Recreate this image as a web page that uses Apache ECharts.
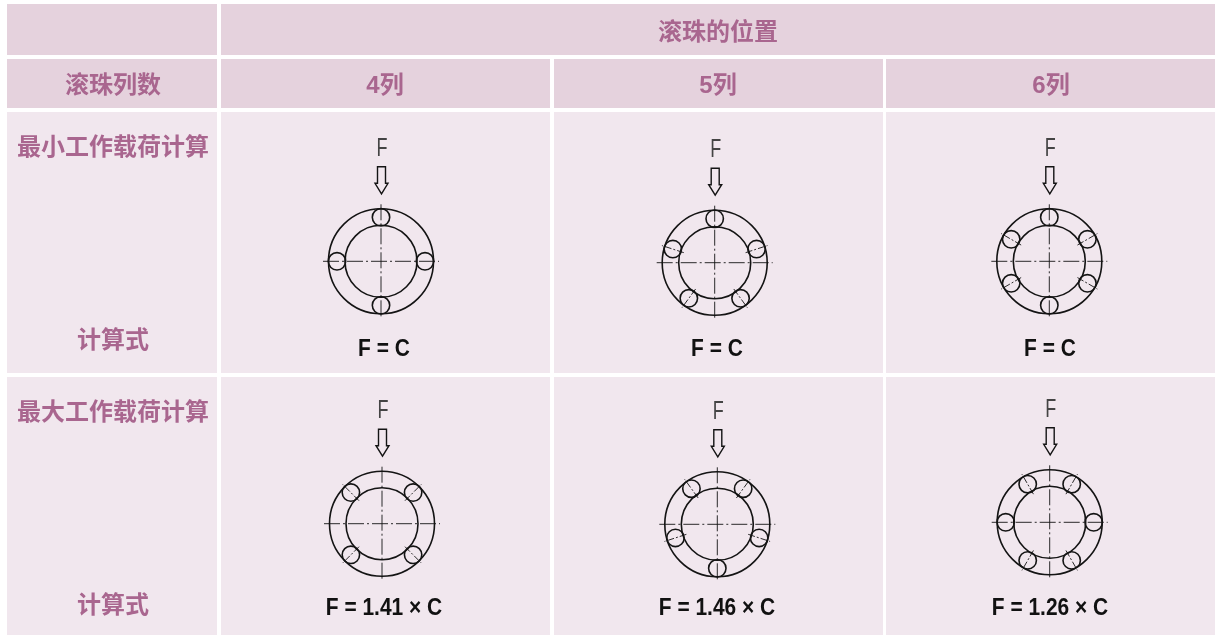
<!DOCTYPE html>
<html>
<head>
<meta charset="utf-8">
<title>滚珠的位置</title>
<style>
	html,body{margin:0;padding:0;background:#fff;}
	#chart{width:1215px;height:635px;}
</style>
<script src="https://cdn.jsdelivr.net/npm/echarts@6/dist/echarts.min.js"></script>
</head>
<body>
<div id="chart"></div>
<script>
	// 表格文字
	const topHeader = '滚珠的位置';
	const rowHeader = '滚珠列数';
	const columnLabels = ['4列', '5列', '6列'];
	const rowLabels = ['最小工作载荷计算', '最大工作载荷计算'];
	const formulaLabel = '计算式';
	const minFormulas = ['F = C', 'F = C', 'F = C'];
	const maxFormulas = ['F = 1.41 × C', 'F = 1.46 × C', 'F = 1.26 × C'];

	// 滚珠角度,从正上方顺时针
	const minBallAngles = [
		[0, 90, 180, 270],
		[0, 72, 144, 216, 288],
		[0, 60, 120, 180, 240, 300]
	];
	const maxBallAngles = [
		[45, 135, 225, 315],
		[36, 108, 180, 252, 324],
		[30, 90, 150, 210, 270, 330]
	];

	// 布局
	const colEdges = [[7, 217], [221, 550], [554, 883], [886, 1215]];
	const rowEdges = [[4, 55], [59, 108], [112, 373], [377, 635]];
	const headColor = '#e5d2dd';
	const bodyColor = '#f1e7ee';
	const titleColor = '#a9668f';
	const inkColor = '#141414';
	const minCenters = [[381, 261.3], [714.7, 262.7], [1049.3, 261.3]];
	const maxCenters = [[382, 523.7], [717.3, 524.3], [1049.7, 522.3]];
	const minFormulaY = 350, maxFormulaY = 609;
	const formulaX = [384, 717, 1050];

	const cellData = [];
	rowEdges.forEach(function (r, ri) {
		colEdges.forEach(function (c, ci) {
			if (ri === 0 && ci > 1) return;
			const x1 = (ri === 0 && ci === 1) ? 1215 : c[1];
			cellData.push([c[0], r[0], x1, r[1], ri < 2 ? headColor : bodyColor]);
		});
	});

	const textData = [
		[718, 33, topHeader, 'h'],
		[113, 86, rowHeader, 'h'],
		[113, 148, rowLabels[0], 'h'],
		[113, 341, formulaLabel, 'h'],
		[113, 413, rowLabels[1], 'h'],
		[113, 606, formulaLabel, 'h']
	];
	columnLabels.forEach(function (name, i) {
		textData.push([formulaX[i] + 1, 86, name, 'h']);
		textData.push([formulaX[i], minFormulaY, minFormulas[i], 'f']);
		textData.push([formulaX[i], maxFormulaY, maxFormulas[i], 'f']);
	});

	const diagramData = [];
	minCenters.forEach(function (c, i) { diagramData.push([c[0], c[1], minBallAngles[i]]); });
	maxCenters.forEach(function (c, i) { diagramData.push([c[0], c[1], maxBallAngles[i]]); });

	function renderCell(params, api) {
		const a = api.coord([api.value(0), api.value(1)]);
		const b = api.coord([api.value(2), api.value(3)]);
		return {
			type: 'rect',
			shape: { x: a[0], y: a[1], width: b[0] - a[0], height: b[1] - a[1] },
			style: { fill: cellData[params.dataIndex][4] }
		};
	}

	function renderText(params, api) {
		const item = textData[params.dataIndex];
		const p = api.coord([item[0], item[1]]);
		const isHead = item[3] === 'h';
		return {
			type: 'text',
			x: p[0],
			y: p[1],
			scaleX: isHead ? 1 : 0.91,
			style: {
				text: item[2],
				align: 'center',
				verticalAlign: 'middle',
				fill: isHead ? titleColor : '#111',
				font: isHead
					? 'bold 24px "Liberation Sans", "Noto Sans CJK SC", sans-serif'
					: 'bold 23px "Liberation Sans", sans-serif'
			}
		};
	}

	function renderDiagram(params, api) {
		const item = diagramData[params.dataIndex];
		const cx = item[0], cy = item[1], angles = item[2];
		const at = function (dx, dy) { return api.coord([cx + dx, cy + dy]); };
		const line = function (a, b, dash) {
			return {
				type: 'line',
				shape: { x1: a[0], y1: a[1], x2: b[0], y2: b[1] },
				style: { stroke: inkColor, lineWidth: 0.9, lineDash: dash || null }
			};
		};
		const circle = function (dx, dy, r) {
			const c = at(dx, dy);
			return {
				type: 'circle',
				shape: { cx: c[0], cy: c[1], r: api.size([r, 0])[0] },
				style: { fill: 'none', stroke: inkColor, lineWidth: 1.6 }
			};
		};
		const children = [
			circle(0, 0, 52.5),
			circle(0, 0, 36),
			line(at(-58, 0), at(58, 0), [16, 3, 2, 3]),
			line(at(0, -57), at(0, 57), [16, 3, 2, 3])
		];
		angles.forEach(function (deg) {
			const rad = deg * Math.PI / 180;
			const ux = Math.sin(rad), uy = -Math.cos(rad);
			children.push(circle(ux * 44, uy * 44, 8.7));
			if (deg % 90 !== 0) {
				children.push(line(at(ux * 32.5, uy * 32.5), at(ux * 55.5, uy * 55.5), [7, 2, 2, 2]));
			}
		});
		// 箭头
		const ax = 0.5;
		children.push({
			type: 'polygon',
			shape: { points: [
				at(ax - 4, -94.5), at(ax + 4, -94.5), at(ax + 4, -78), at(ax + 6.5, -78),
				at(ax, -67.5), at(ax - 6.5, -78), at(ax - 4, -78)
			] },
			style: { fill: 'none', stroke: inkColor, lineWidth: 1.4 }
		});
		const f = at(1, -112.5);
		children.push({
			type: 'text',
			x: f[0],
			y: f[1],
			scaleX: 0.72,
			style: {
				text: 'F',
				align: 'center',
				verticalAlign: 'middle',
				fill: '#444',
				font: '25px "Liberation Sans", sans-serif'
			}
		});
		return { type: 'group', children: children };
	}

	const chart = echarts.init(document.getElementById('chart'));
	chart.setOption({
		animation: false,
		backgroundColor: '#ffffff',
		grid: { left: 0, right: 0, top: 0, bottom: 0 },
		xAxis: { type: 'value', min: 0, max: 1215, show: false },
		yAxis: { type: 'value', min: 0, max: 635, inverse: true, show: false },
		series: [
			{
				type: 'custom',
				coordinateSystem: 'cartesian2d',
				renderItem: renderCell,
				encode: { x: [0, 2], y: [1, 3] },
				silent: true,
				data: cellData.map(function (d) { return d.slice(0, 4); })
			},
			{
				type: 'custom',
				coordinateSystem: 'cartesian2d',
				renderItem: renderDiagram,
				encode: { x: 0, y: 1 },
				silent: true,
				data: diagramData.map(function (d) { return [d[0], d[1]]; })
			},
			{
				type: 'custom',
				coordinateSystem: 'cartesian2d',
				renderItem: renderText,
				encode: { x: 0, y: 1 },
				silent: true,
				data: textData.map(function (d) { return [d[0], d[1]]; })
			}
		]
	});
</script>
</body>
</html>
